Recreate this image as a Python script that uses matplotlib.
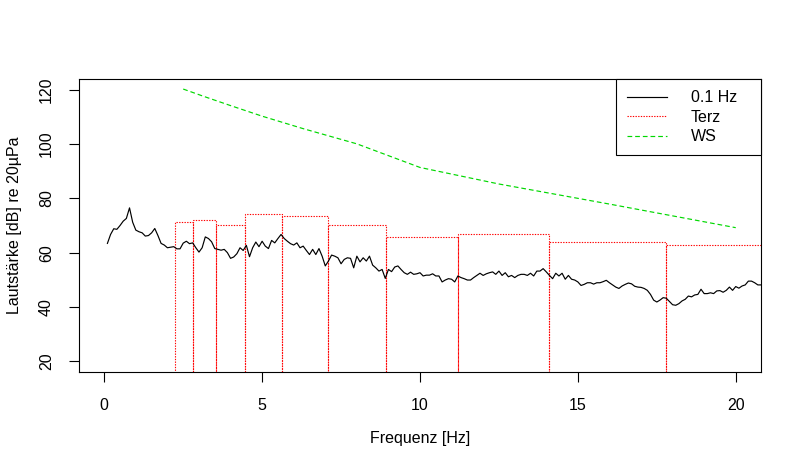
#Lautstaerke-Spektrum: 0.1 Hz Aufloesung, Terzpegel und Wahrnehmungsschwelle
import numpy as np
import matplotlib
matplotlib.use("Agg")
from matplotlib import pyplot as plt
from matplotlib.lines import Line2D

plt.rcParams['font.family'] = ['Liberation Sans', 'DejaVu Sans']
plt.rcParams['font.size'] = 11.5

# Schmalband-Spektrum, 0.1 Hz Schritte ab 0.1 Hz
freq_step = 0.1
level_01hz = [
    63.4, 66.7, 68.8, 68.6, 70.0, 71.6, 72.6, 76.5, 71.2, 68.3,
    67.7, 67.3, 66.1, 66.3, 67.3, 68.9, 66.3, 63.4, 62.8, 61.8,
    62.0, 62.2, 61.4, 61.4, 63.5, 64.2, 63.3, 63.6, 61.8, 60.2,
    61.8, 65.8, 65.2, 64.0, 61.5, 61.2, 60.9, 61.2, 60.0, 57.9,
    58.4, 59.6, 61.8, 60.8, 62.7, 58.5, 61.8, 63.9, 62.2, 64.2,
    62.4,
    61.5, 64.5, 63.6, 65.2, 66.7, 65.2, 64.2, 63.3, 62.8, 63.6,
    61.8, 62.4, 60.8, 59.3, 61.2, 59.3, 61.5, 58.7, 55.1, 56.9,
    59.1, 58.7, 58.1, 55.9, 57.5, 58.1, 57.9, 54.4, 58.7, 56.6,
    58.1, 56.9, 58.7, 55.4, 54.4, 53.2, 53.8, 50.5, 53.8, 53.0,
    54.7, 55.1, 53.8, 52.6, 52.0, 52.8, 52.0, 52.2, 52.6, 51.4,
    51.7, 51.7, 52.2,
    51.4, 51.4, 49.2, 49.9, 50.4, 50.2, 49.2, 51.4, 50.8, 50.4,
    49.9, 49.9, 50.8, 51.6, 52.4, 51.6, 52.2, 52.6, 52.9, 52.0,
    53.2, 51.6, 52.6, 51.1, 51.6, 50.8, 51.6, 52.0, 52.0, 51.6,
    52.4, 51.4, 53.2, 53.2, 54.1, 52.9, 51.6, 50.4, 52.4, 51.4,
    52.4, 50.2, 51.6, 50.2, 49.9, 49.2, 47.9, 48.3, 48.9, 48.9,
    48.4, 48.9,
    48.9, 49.3, 49.8, 48.9, 48.1, 47.3, 46.8, 47.7, 48.3, 48.8,
    48.5, 47.6, 47.3, 47.2, 46.8, 46.1, 44.6, 42.5, 41.8, 42.5,
    43.4, 43.2, 42.0, 40.8, 40.6, 41.2, 42.2, 42.8, 44.0, 43.7,
    44.4, 44.6, 46.5, 44.9, 44.9, 45.2, 44.9, 45.9, 46.0, 45.4,
    46.1, 47.3, 46.1, 47.5, 46.9, 47.7, 48.1, 49.5, 49.5, 48.9,
    48.1, 48.1,
]
freq_01hz = freq_step * np.arange(1, len(level_01hz) + 1)

# Terzbaender (Bandgrenzen) und Terzpegel
terz_lower = [2.24, 2.82, 3.55, 4.47, 5.62, 7.08, 8.91, 11.2, 14.1, 17.8]
terz_upper = [2.82, 3.55, 4.47, 5.62, 7.08, 8.91, 11.2, 14.1, 17.8, 22.4]
terz_level = [71.2, 71.9, 70.1, 74.4, 73.4, 70.1, 65.7, 66.7, 64.1, 62.9]

# Wahrnehmungsschwelle (WS) bei Terzmittenfrequenzen
ws_freq = [2.5, 3.15, 4, 5, 6.3, 8, 10, 12.5, 16, 20]
ws_level = [120.3, 117.6, 114.2, 110.3, 105.7, 100.1, 91.4, 85.3, 77.9, 69.2]

green = '#00D800'
dotted = (0, (1.2, 1.2))
dashed = (0, (4, 2.5))

fig = plt.figure(figsize=(8, 4.7), dpi=100)
ax = fig.add_axes([0.09875, 0.2085, 0.8525, 0.6234])

ax.plot(freq_01hz, level_01hz, color='black', lw=0.85)

widths = np.array(terz_upper) - np.array(terz_lower)
ax.bar(terz_lower, terz_level, width=widths, align='edge', fill=False,
       edgecolor='red', linestyle=dotted, linewidth=0.8)

ax.plot(ws_freq, ws_level, color=green, lw=0.85, linestyle=dashed)

ax.set_xlim(-0.8, 20.8)
ax.set_ylim(16, 124)
ax.set_xticks([0, 5, 10, 15, 20])
ax.set_yticks([20, 40, 60, 80, 100, 120])

for s in ax.spines.values():
    s.set_linewidth(0.8)
ax.tick_params(direction='out', length=7, width=0.8, pad=12)
ax.tick_params(axis='y', labelrotation=90, pad=11)
for lab in ax.get_yticklabels():
    lab.set_va('center')

ax.set_xlabel('Frequenz [Hz]', labelpad=13)
ax.set_ylabel('Lautstärke [dB] re 20µPa', labelpad=12)

handles = [Line2D([], [], color='black', lw=0.85),
           Line2D([], [], color='red', lw=0.8, linestyle=dotted),
           Line2D([], [], color=green, lw=0.85, linestyle=dashed)]
# Legende oben rechts, Breite wie im Original
leg = ax.legend(handles, ['0.1 Hz', 'Terz', 'WS'], loc='upper right',
                bbox_to_anchor=(0.7874, 0.0, 0.2126, 1.0), mode='expand',
                borderaxespad=0, fancybox=False, framealpha=1,
                edgecolor='black', borderpad=0.7, handlelength=2.5,
                handletextpad=1.5, labelspacing=0.28)
leg.get_frame().set_linewidth(0.8)

plt.savefig('out.png', dpi=100)
